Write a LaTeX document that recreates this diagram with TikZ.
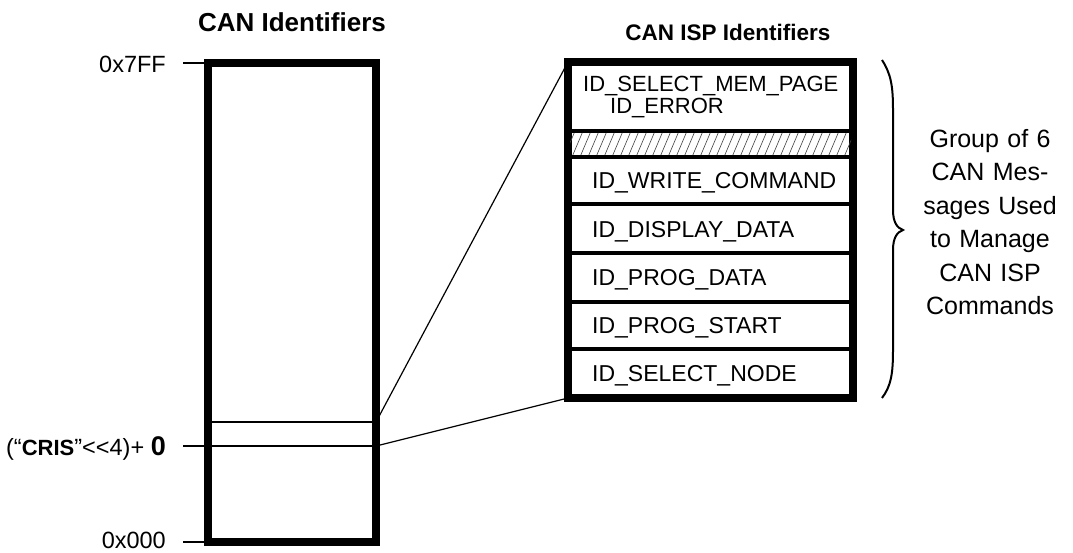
\documentclass[tikz,border=0pt]{standalone}
\usepackage{fontspec}
\setmainfont{Liberation Sans}
\newcommand{\fsz}[1]{\fontsize{#1}{#1}\selectfont}
\tikzset{
  x=1pt, y=-1pt,
  idbox/.style={draw, line width=8pt, inner sep=0pt, outer sep=0pt},
  tick/.style={line width=2.5pt},
  sepline/.style={line width=4pt},
  link/.style={line width=1.2pt},
  title/.style={font=\bfseries\fsz{26}},
  addr/.style={font=\fsz{23.5}, anchor=base east, inner sep=0pt},
  rowtext/.style={font=\fsz{23}, anchor=base west, inner sep=0pt},
}
\begin{document}
\begin{tikzpicture}
\useasboundingbox (0,0) rectangle (1073,552);

% titles
\node[title] (t1) at (292,22) {CAN Identifiers};
\node[title, font=\bfseries\fsz{22.5}] (t2) at (728,32) {CAN ISP Identifiers};

% full identifier range
\node[idbox, minimum width=168pt, minimum height=479pt] (canbox) at (292,302.5) {};

% range of the ISP identifiers inside it
\coordinate (rangeL) at (208,422);
\coordinate (rangeR) at (376,422);
\coordinate (crisL) at (183,446);
\coordinate (crisR) at (376,446);
\draw[tick] (rangeL) -- (rangeR);
\draw[tick] (crisL) -- (crisR);

% address ticks
\coordinate (topL) at (183,63);
\coordinate (botL) at (183,542);
\draw[tick] (topL) -- (canbox.north west);
\draw[tick] (botL) -- (canbox.south west);

\node[addr] (a7ff) at (166,72) {0x7FF};
\node[addr] (a000) at (166,548.5) {0x000};
\node[addr] (acris) at (166,455) {(“{\bfseries\fsz{22}CRIS}”<{}<4)+ {\bfseries\fsz{27}0}};

% CAN ISP identifier table
\node[idbox, minimum width=285pt, minimum height=336pt] (ispbox) at (710.5,230) {};

% hatched (unused) slot
\begin{scope}
  \clip (570,133) rectangle (851,155);
  \foreach \k in {0,8,...,304}
    \draw[line width=0.6pt, black!75] (556+\k,157) -- (567+\k,131);
\end{scope}

\foreach \yy in {131,157,204,253,301.5,349}
  \draw[sepline] (568,\yy) -- (853,\yy);

\node[rowtext, font=\fsz{22}] (r1) at (583,91) {ID\_SELECT\_MEM\_PAGE};
\node[rowtext, font=\fsz{22}] (r1b) at (610,113) {ID\_ERROR};
\node[rowtext] (r2) at (592,188.5) {ID\_WRITE\_COMMAND};
\node[rowtext] (r3) at (592,237) {ID\_DISPLAY\_DATA};
\node[rowtext] (r4) at (592,285) {ID\_PROG\_DATA};
\node[rowtext] (r5) at (592,333) {ID\_PROG\_START};
\node[rowtext] (r6) at (592,381) {ID\_SELECT\_NODE};

% zoom lines
\draw[link] (rangeR) -- (ispbox.north west);
\draw[link] (crisR) -- (ispbox.south west);

% brace and note
\draw[line width=2pt]
  (882,60) .. controls (891,74) and (893,86) .. (893,110)
  -- (893,210) .. controls (893,222) and (897,228) .. (903,230)
  .. controls (897,232) and (893,238) .. (893,250)
  -- (893,350) .. controls (893,374) and (891,386) .. (882,398);

\node[font=\fsz{25}, align=center, text width=150pt, inner sep=0pt]
  (note) at (990,222) {Group of 6\\[8.5pt]CAN Mes-\\[8.5pt]sages Used\\[8.5pt]to Manage\\[8.5pt]CAN ISP\\[8.5pt]Commands};
\end{tikzpicture}
\end{document}
